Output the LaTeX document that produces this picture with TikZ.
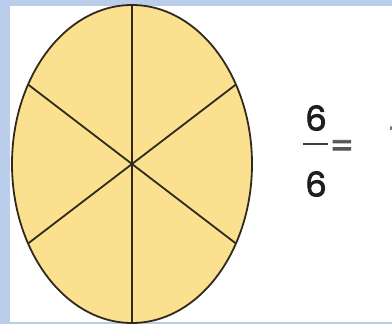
\documentclass[tikz,border=0pt]{standalone}
\usepackage{fontspec}
\usetikzlibrary{calc}
\newfontfamily\geofont{Poppins}[FakeBold=2.5]
\definecolor{bgblue}{HTML}{BACDEB}
\definecolor{pie}{HTML}{FBE08F}
\definecolor{rim}{HTML}{2F2A1C}
\definecolor{ink}{HTML}{1E1E1E}
\begin{document}
\begin{tikzpicture}[x=1pt,y=-1pt,
  rimline/.style={draw=rim,line width=1.8pt},
  digit/.style={inner sep=0pt,font=\geofont\fontsize{34}{34}\selectfont,text=ink}]
\useasboundingbox (0,0) rectangle (392,324);
\clip (0,0) rectangle (392,324);
\fill[bgblue] (0,0) rectangle (392,324);
\fill[white] (10,6) rectangle (392,322);
% ellipse
\coordinate (c) at (132,164);
\filldraw[fill=pie,rimline] (c) ellipse [x radius=120, y radius=159];
\foreach \t/\n in {90/a,150/b,210/d,270/e,330/f,30/g}{
  \coordinate (\n) at ($(c)+({120*cos(\t)},{-159*sin(\t)})$);
}
\draw[rimline] (a) -- (e);
\draw[rimline] (b) -- (f);
\draw[rimline] (g) -- (d);
\fill[rim] (c) circle (2);
% fraction
\node[digit] (num) at (316,118) {6};
\node[digit] (den) at (316,184) {6};
\coordinate (bl) at (303,144);
\coordinate (br) at (328,144);
\draw[ink!85,line width=2.6pt] (bl) -- (br);
\node[digit,text=ink!75] (eq) at (342,149) {=};
\node[digit,anchor=west,text=ink!60] (one) at (389,139) {1};
\end{tikzpicture}
\end{document}
